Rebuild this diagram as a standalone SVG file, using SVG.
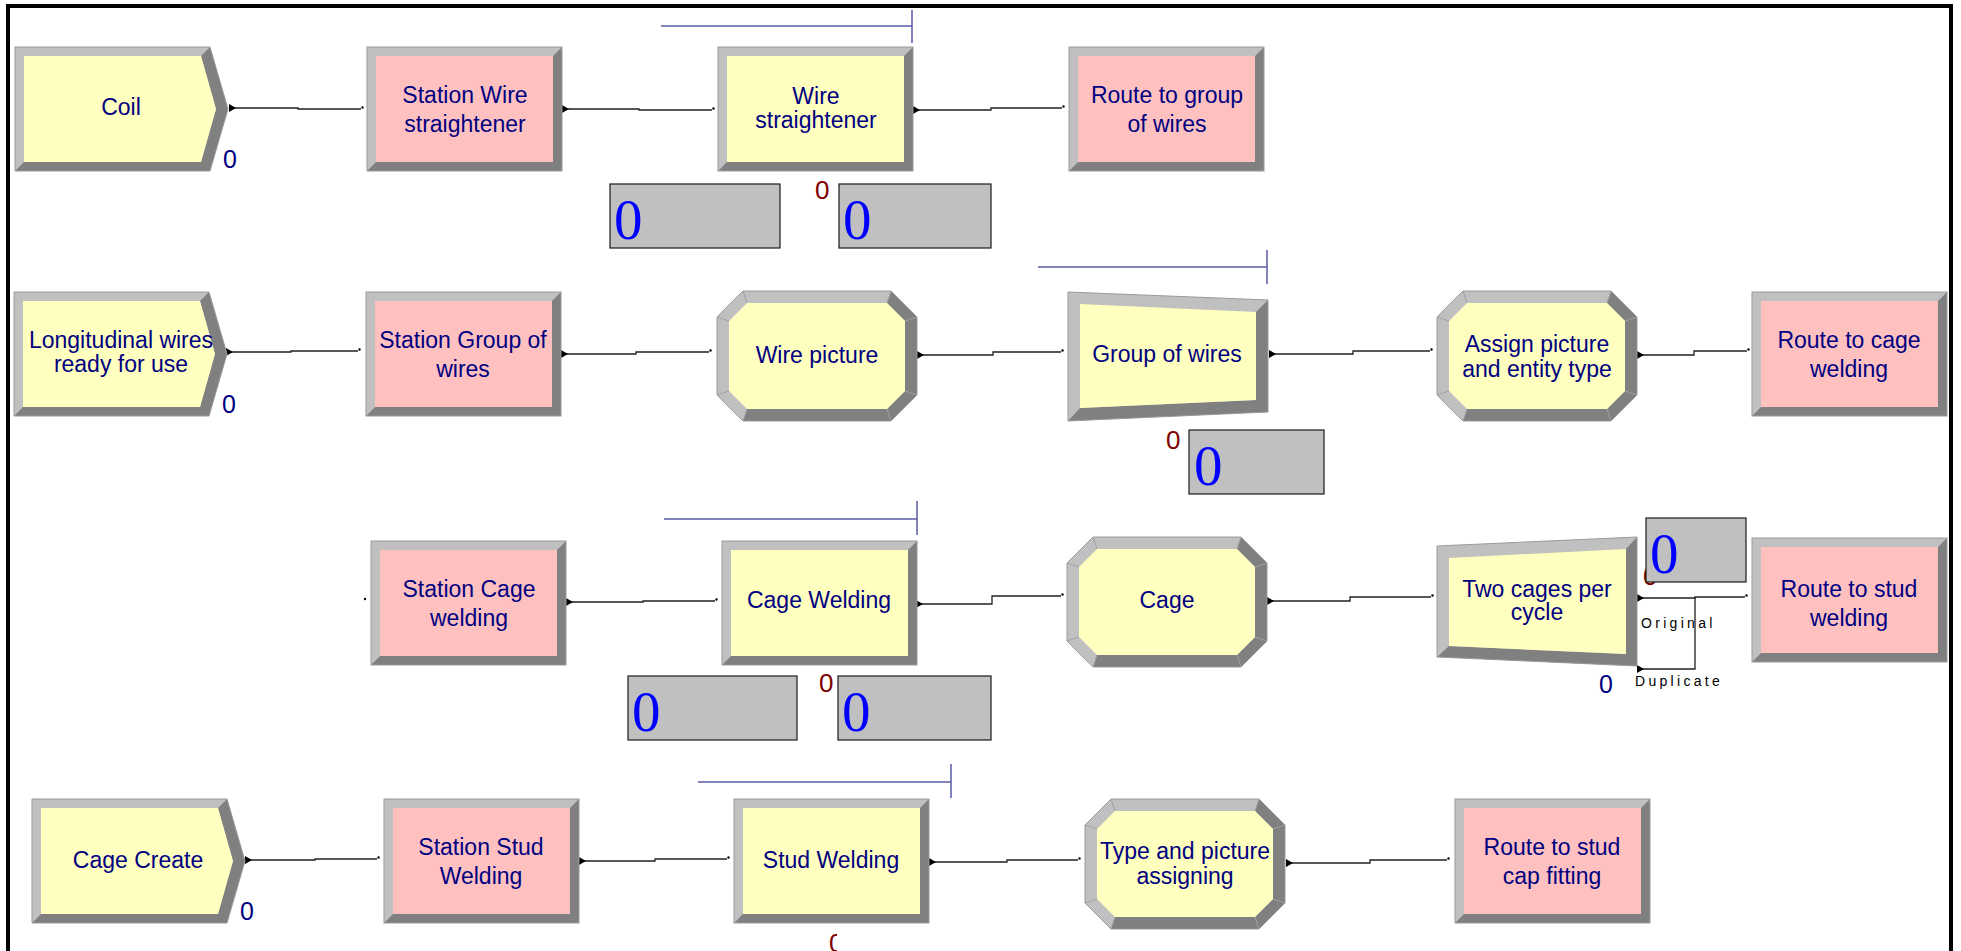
<svg xmlns="http://www.w3.org/2000/svg" xmlns:xlink="http://www.w3.org/1999/xlink" width="1961" height="951" viewBox="0 0 1961 951">
  <style>
    .yellow { fill: #ffffc0; }
    .pink { fill: #ffc0c0; }
    .lbl { font-family: "Liberation Sans", Arial, sans-serif; font-size: 23px; fill: #000080; text-anchor: middle; }
    .cnt { font-family: "Liberation Sans", Arial, sans-serif; font-size: 25px; fill: #000080; }
    .qcnt { font-family: "Liberation Sans", Arial, sans-serif; font-size: 26px; fill: #800000; }
    .big { font-family: "Liberation Serif", "Times New Roman", serif; font-size: 57px; fill: #0000ff; }
    .qbox { fill: #c0c0c0; stroke: #1a1a1a; stroke-width: 1.2; }
    .qline { fill: none; stroke: #5a5aa8; stroke-width: 1.5; }
    .conn { fill: none; stroke: #202020; stroke-width: 1.3; marker-start: url(#arrow); marker-end: url(#dot); }
    .plain { fill: none; stroke: #202020; stroke-width: 1.3; }
    .small { font-family: "Liberation Sans", Arial, sans-serif; font-size: 14px; fill: #000; letter-spacing: 3.3px; }
    .edge { fill: none; stroke: #9a9a9a; stroke-width: 1; }
  </style>
  <defs>
    <marker id="arrow" markerUnits="userSpaceOnUse" markerWidth="9" markerHeight="10" refX="0" refY="4" orient="auto" overflow="visible">
      <path d="M0,0 L7,4 L0,8 Z" fill="#000"/>
    </marker>
    <marker id="dot" markerUnits="userSpaceOnUse" markerWidth="4" markerHeight="4" refX="0" refY="0" orient="auto" overflow="visible">
      <circle cx="1.5" cy="-1.5" r="1.2" fill="#000"/>
    </marker>
    <clipPath id="cutoff">
      <rect x="820" y="925" width="17" height="30"/>
    </clipPath>
    <!-- bevelled rectangle (station / route / process) -->
    <g id="box">
      <rect width="195" height="124" fill="#c0c0c0"/>
      <polygon points="195,0 195,124 0,124 9,115 186,115 186,9" fill="#808080"/>
      <rect x="9" y="9" width="177" height="106"/>
      <rect width="195" height="124" class="edge"/>
    </g>
    <!-- bevelled arrow pentagon (create) -->
    <g id="create">
      <polygon points="0,0 195,0 213,62 195,124 0,124" fill="#c0c0c0"/>
      <polygon points="195,0 213,62 195,124 0,124 9,115 186,115 201,62 186,9" fill="#808080"/>
      <polygon points="9,9 186,9 201,62 186,115 9,115"/>
      <polygon points="0,0 195,0 213,62 195,124 0,124" class="edge"/>
    </g>
    <!-- bevelled octagon (assign) -->
    <g id="oct">
      <polygon points="26,0 174,0 200,26 200,104 174,130 26,130 0,104 0,26" fill="#c0c0c0"/>
      <polygon points="174,0 200,26 200,104 174,130 26,130 30,118 170,118 188,100 188,30 170,12" fill="#808080"/>
      <polygon points="30,12 170,12 188,30 188,100 170,118 30,118 12,100 12,30"/>
      <polygon points="26,0 174,0 200,26 200,104 174,130 26,130 0,104 0,26" class="edge"/>
      <path d="M26,0 L30,12 M0,26 L12,30 M0,104 L12,100 M26,130 L30,118 M174,0 L170,12 M200,26 L188,30 M200,104 L188,100 M174,130 L170,118" stroke="#a0a0a0" stroke-width="1"/>
    </g>
    <!-- bevelled trapezoid narrowing to the right (batch) -->
    <g id="batch">
      <polygon points="0,0 200,8 200,120 0,129" fill="#c0c0c0"/>
      <polygon points="200,8 200,120 0,129 12,116 188,108 188,20" fill="#808080"/>
      <polygon points="12,12 188,20 188,108 12,116"/>
      <polygon points="0,0 200,8 200,120 0,129" class="edge"/>
    </g>
    <!-- bevelled trapezoid widening to the right (separate) -->
    <g id="separate">
      <polygon points="0,9 200,0 200,129 0,120" fill="#c0c0c0"/>
      <polygon points="200,0 200,129 0,120 12,109 189,117 189,12" fill="#808080"/>
      <polygon points="12,21 189,12 189,117 12,109"/>
      <polygon points="0,9 200,0 200,129 0,120" class="edge"/>
    </g>
  </defs>

  <rect width="1961" height="951" fill="#ffffff"/>
  <!-- frame -->
  <rect x="8" y="6" width="1943" height="1000" fill="none" stroke="#000" stroke-width="4"/>

  <!-- resource / queue animation -->
  <g id="animation">
    <path class="qline" d="M661,26 H912 M912,10 V43"/>
    <path class="qline" d="M1038,267 H1267 M1267,250 V284"/>
    <path class="qline" d="M664,519 H917 M917,501 V535"/>
    <path class="qline" d="M698,782 H951 M951,764 V798"/>

    <rect class="qbox" x="610" y="184" width="170" height="64"/>
    <text class="big" x="614" y="239">0</text>
    <text class="qcnt" x="815" y="199">0</text>
    <rect class="qbox" x="839" y="184" width="152" height="64"/>
    <text class="big" x="843" y="239">0</text>

    <text class="qcnt" x="1166" y="449">0</text>
    <rect class="qbox" x="1189" y="430" width="135" height="64"/>
    <text class="big" x="1194" y="485">0</text>

    <rect class="qbox" x="628" y="676" width="169" height="64"/>
    <text class="big" x="632" y="731">0</text>
    <text class="qcnt" x="819" y="692">0</text>
    <rect class="qbox" x="838" y="676" width="153" height="64"/>
    <text class="big" x="842" y="731">0</text>

    <text class="qcnt" x="1643" y="585">0</text>
    <rect class="qbox" x="1646" y="518" width="100" height="64"/>
    <text class="big" x="1650" y="573">0</text>

    <text class="qcnt" x="829" y="952" clip-path="url(#cutoff)">0</text>
  </g>

  <!-- connectors -->
  <g id="connectors">
    <path class="conn" d="M229,108 H298 V109 H361"/>
    <path class="conn" d="M562,109 H639 V110 H712"/>
    <path class="conn" d="M913,110 H991 V108 H1062"/>

    <path class="conn" d="M226,352 H291 V351 H358"/>
    <path class="conn" d="M561,354 H636 V352 H709"/>
    <path class="conn" d="M917,355 H993 V352 H1061"/>
    <path class="conn" d="M1269,354 H1353 V351 H1430"/>
    <path class="conn" d="M1637,355 H1694 V351 H1747"/>

    <circle cx="365" cy="599" r="1.2" fill="#000"/>
    <path class="conn" d="M566,602 H643 V601 H715"/>
    <path class="conn" d="M916,604 H992 V596 H1061"/>
    <path class="conn" d="M1267,601 H1350 V597 H1431"/>
    <path class="conn" d="M1637,598 H1695 V597 H1745"/>
    <path class="plain" d="M1637,669 H1695 V598" marker-start="url(#arrow)"/>
    <text class="small" x="1641" y="628">Original</text>
    <text class="small" x="1635" y="686">Duplicate</text>

    <path class="conn" d="M245,860 H315 V859 H377"/>
    <path class="conn" d="M579,861 H655 V859 H727"/>
    <path class="conn" d="M929,862 H1007 V860 H1078"/>
    <path class="conn" d="M1286,863 H1370 V860 H1447"/>
  </g>

  <!-- row 1 -->
  <g id="coil">
    <use href="#create" x="15" y="47" class="yellow"/>
    <text class="lbl" x="121" y="115">Coil</text>
    <text class="cnt" x="223" y="168">0</text>
  </g>
  <g id="station-wire-straightener">
    <use href="#box" x="367" y="47" class="pink"/>
    <text class="lbl" x="465" y="103">Station Wire</text>
    <text class="lbl" x="465" y="132">straightener</text>
  </g>
  <g id="wire-straightener">
    <use href="#box" x="718" y="47" class="yellow"/>
    <text class="lbl" x="816" y="104">Wire</text>
    <text class="lbl" x="816" y="128">straightener</text>
  </g>
  <g id="route-to-group-of-wires">
    <use href="#box" x="1069" y="47" class="pink"/>
    <text class="lbl" x="1167" y="103">Route to group</text>
    <text class="lbl" x="1167" y="132">of wires</text>
  </g>

  <!-- row 2 -->
  <g id="longitudinal-wires">
    <use href="#create" x="14" y="292" class="yellow"/>
    <text class="lbl" x="121" y="348">Longitudinal wires</text>
    <text class="lbl" x="121" y="372">ready for use</text>
    <text class="cnt" x="222" y="413">0</text>
  </g>
  <g id="station-group-of-wires">
    <use href="#box" x="366" y="292" class="pink"/>
    <text class="lbl" x="463" y="348">Station Group of</text>
    <text class="lbl" x="463" y="377">wires</text>
  </g>
  <g id="wire-picture">
    <use href="#oct" x="717" y="291" class="yellow"/>
    <text class="lbl" x="817" y="363">Wire picture</text>
  </g>
  <g id="group-of-wires">
    <use href="#batch" x="1068" y="292" class="yellow"/>
    <text class="lbl" x="1167" y="362">Group of wires</text>
  </g>
  <g id="assign-picture">
    <use href="#oct" x="1437" y="291" class="yellow"/>
    <text class="lbl" x="1537" y="352">Assign picture</text>
    <text class="lbl" x="1537" y="377">and entity type</text>
  </g>
  <g id="route-to-cage-welding">
    <use href="#box" x="1752" y="292" class="pink"/>
    <text class="lbl" x="1849" y="348">Route to cage</text>
    <text class="lbl" x="1849" y="377">welding</text>
  </g>

  <!-- row 3 -->
  <g id="station-cage-welding">
    <use href="#box" x="371" y="541" class="pink"/>
    <text class="lbl" x="469" y="597">Station Cage</text>
    <text class="lbl" x="469" y="626">welding</text>
  </g>
  <g id="cage-welding">
    <use href="#box" x="722" y="541" class="yellow"/>
    <text class="lbl" x="819" y="608">Cage Welding</text>
  </g>
  <g id="cage">
    <use href="#oct" x="1067" y="537" class="yellow"/>
    <text class="lbl" x="1167" y="608">Cage</text>
  </g>
  <g id="two-cages-per-cycle">
    <use href="#separate" x="1437" y="537" class="yellow"/>
    <text class="lbl" x="1537" y="597">Two cages per</text>
    <text class="lbl" x="1537" y="620">cycle</text>
    <text class="cnt" x="1599" y="693">0</text>
  </g>
  <g id="route-to-stud-welding">
    <use href="#box" x="1752" y="538" class="pink"/>
    <text class="lbl" x="1849" y="597">Route to stud</text>
    <text class="lbl" x="1849" y="626">welding</text>
  </g>

  <!-- row 4 -->
  <g id="cage-create">
    <use href="#create" x="32" y="799" class="yellow"/>
    <text class="lbl" x="138" y="868">Cage Create</text>
    <text class="cnt" x="240" y="920">0</text>
  </g>
  <g id="station-stud-welding">
    <use href="#box" x="384" y="799" class="pink"/>
    <text class="lbl" x="481" y="855">Station Stud</text>
    <text class="lbl" x="481" y="884">Welding</text>
  </g>
  <g id="stud-welding">
    <use href="#box" x="734" y="799" class="yellow"/>
    <text class="lbl" x="831" y="868">Stud Welding</text>
  </g>
  <g id="type-and-picture">
    <use href="#oct" x="1085" y="799" class="yellow"/>
    <text class="lbl" x="1185" y="859">Type and picture</text>
    <text class="lbl" x="1185" y="884">assigning</text>
  </g>
  <g id="route-to-stud-cap-fitting">
    <use href="#box" x="1455" y="799" class="pink"/>
    <text class="lbl" x="1552" y="855">Route to stud</text>
    <text class="lbl" x="1552" y="884">cap fitting</text>
  </g>
</svg>
